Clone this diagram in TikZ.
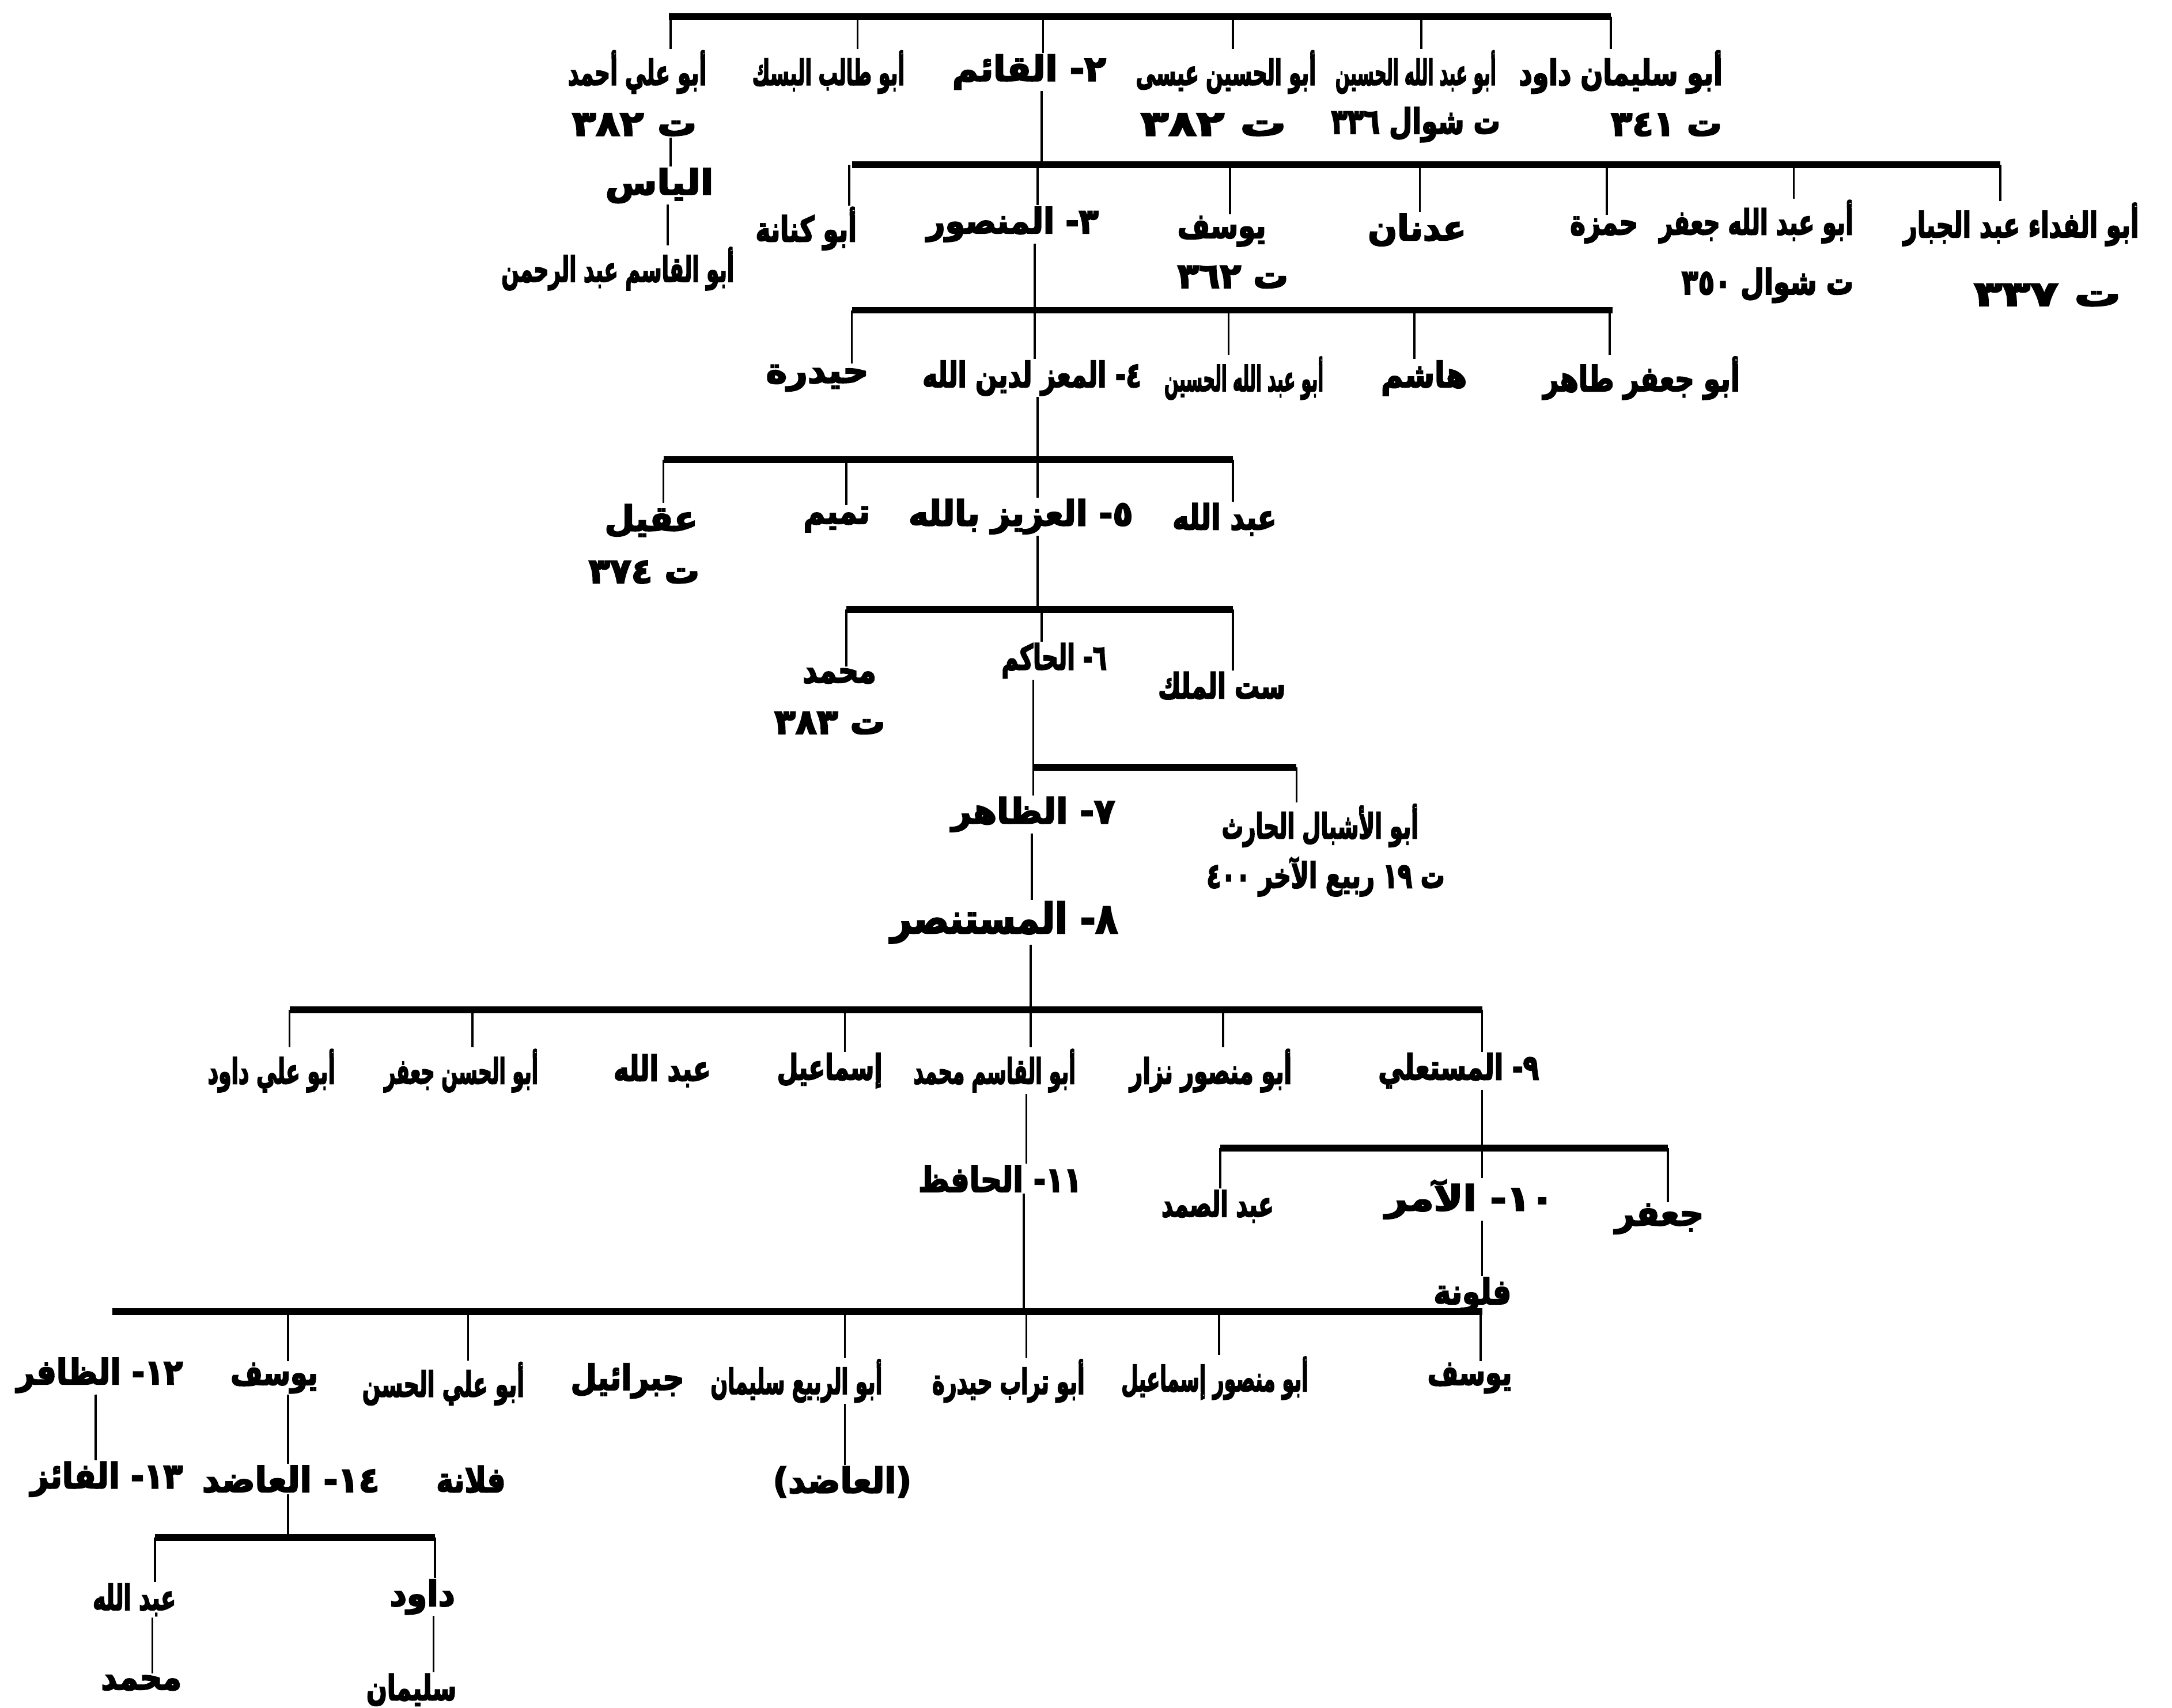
\documentclass[tikz,border=0pt]{standalone}
\usepackage{fontspec}
\TeXXeTstate=1
\newfontfamily\arf[Script=Arabic,FakeBold=4]{DejaVu Sans Bold}
\newsavebox\fitbox
\newlength\fitlen
\newcommand\FitW[2]{\sbox\fitbox{#2}\setlength\fitlen{\wd\fitbox}\pgfmathsetmacro\fitf{#1/\fitlen}\scalebox{\fitf}[1]{\usebox\fitbox}}
\newcommand\dropl[3]{\draw[drop] (#2 -| #1,0) -- (#3 -| #1,0);}
\begin{document}
\begin{tikzpicture}[x=1pt,y=-1pt,
  nm/.style={font=\arf\fontsize{25}{28}\selectfont, inner sep=1pt},
  big/.style={font=\arf\fontsize{30}{33}\selectfont, inner sep=1pt},
  bar/.style={line width=4.8pt},
  drop/.style={line width=1.5pt}]
\useasboundingbox (0,0) rectangle (1568,1233);
% bar levels
\coordinate (B1) at (0,12);
\coordinate (B2) at (0,119);
\coordinate (B3) at (0,224);
\coordinate (B4) at (0,332);
\coordinate (B5) at (0,440);
\coordinate (B6) at (0,554);
\coordinate (B7) at (0,729);
\coordinate (B8) at (0,829);
\coordinate (B9) at (0,947);
\coordinate (B10) at (0,1110);

% ---------- row 1 ----------
\node[nm] (r1a) at (460,52) {\FitW{100}{\beginR أبو علي أحمد\endR}};
\node[nm] (d1a) at (458,90) {\FitW{90}{\beginR ت ٣٨٢\endR}};
\node[nm] (r1b) at (598,52) {\FitW{110}{\beginR أبو طالب البسك\endR}};
\node[nm] (r1c) at (743,52) {\FitW{111}{\beginR ٢- القائم\endR}};
\node[nm] (r1d) at (885,52) {\FitW{130}{\beginR أبو الحسين عيسى\endR}};
\node[nm] (d1d) at (876,90) {\FitW{105}{\beginR ت ٣٨٢\endR}};
\node[nm] (r1e) at (1022,52) {\FitW{116}{\beginR أبو عبد الله الحسين\endR}};
\node[nm] (d1e) at (1022,90) {\FitW{122}{\beginR ت شوال ٣٣٦\endR}};
\node[nm] (r1f) at (1170,52) {\FitW{147}{\beginR أبو سليمان داود\endR}};
\node[nm] (d1f) at (1203,90) {\FitW{80}{\beginR ت ٣٤١\endR}};
\draw[bar] (B1 -| 483,0) -- (B1 -| 1163,0);
\dropl{484}{B1}{r1a.north}
\dropl{619}{B1}{r1b.north}
\dropl{753}{B1}{r1c.north}
\dropl{890}{B1}{r1d.north}
\dropl{1026}{B1}{r1e.north}
\dropl{1163}{B1}{r1f.north}

% descendants of Abu Ali Ahmad
\node[nm] (ily) at (476,134) {\FitW{78}{\beginR الياس\endR}};
\node[nm] (aqr) at (446,194) {\FitW{168}{\beginR أبو القاسم عبد الرحمن\endR}};
\dropl{484}{d1a.south}{ily.north}
\dropl{482}{ily.south}{aqr.north}

% ---------- row 2 ----------
\dropl{752}{r1c.south}{B2}
\node[nm] (r2a) at (582,165) {\FitW{73}{\beginR أبو كنانة\endR}};
\node[nm] (r2b) at (731,162) {\FitW{124}{\beginR ٣- المنصور\endR}};
\node[nm] (r2c) at (882,167) {\FitW{64}{\beginR يوسف\endR}};
\node[nm] (d2c) at (890,200) {\FitW{80}{\beginR ت ٣٦٢\endR}};
\node[nm] (r2d) at (1023,166) {\FitW{71}{\beginR عدنان\endR}};
\node[nm] (r2e) at (1158,166) {\FitW{49}{\beginR حمزة\endR}};
\node[nm] (r2f) at (1268,160) {\FitW{140}{\beginR أبو عبد الله جعفر\endR}};
\node[nm] (d2f) at (1276,206) {\FitW{124}{\beginR ت شوال ٣٥٠\endR}};
\node[nm] (r2g) at (1459,162) {\FitW{170}{\beginR أبو الفداء عبد الجبار\endR}};
\node[nm] (d2g) at (1478,213) {\FitW{106}{\beginR ت ٣٣٧\endR}};
\draw[bar] (B2 -| 615,0) -- (B2 -| 1444,0);
\dropl{613}{B2}{r2a.north}
\dropl{749}{B2}{r2b.north}
\dropl{888}{B2}{r2c.north}
\dropl{1025}{B2}{r2d.north}
\dropl{1160}{B2}{r2e.north}
\dropl{1295}{B2}{r2f.north}
\dropl{1444}{B2}{r2g.north}

% ---------- row 3 ----------
\dropl{747}{r2b.south}{B3}
\node[nm] (r3a) at (590,273) {\FitW{74}{\beginR حيدرة\endR}};
\node[nm] (r3b) at (745,273) {\FitW{158}{\beginR ٤- المعز لدين الله\endR}};
\node[nm] (r3c) at (898,273) {\FitW{115}{\beginR أبو عبد الله الحسين\endR}};
\node[nm] (r3d) at (1028,273) {\FitW{62}{\beginR هاشم\endR}};
\node[nm] (r3e) at (1185,273) {\FitW{142}{\beginR أبو جعفر طاهر\endR}};
\draw[bar] (B3 -| 615,0) -- (B3 -| 1164,0);
\dropl{615}{B3}{r3a.north}
\dropl{747}{B3}{r3b.north}
\dropl{887}{B3}{r3c.north}
\dropl{1021}{B3}{r3d.north}
\dropl{1162}{B3}{r3e.north}

% ---------- row 4 ----------
\dropl{749}{r3b.south}{B4}
\node[nm] (r4a) at (470,376) {\FitW{67}{\beginR عقيل\endR}};
\node[nm] (d4a) at (465,413) {\FitW{80}{\beginR ت ٣٧٤\endR}};
\node[nm] (r4b) at (604,375) {\FitW{48}{\beginR تميم\endR}};
\node[nm] (r4c) at (737,373) {\FitW{162}{\beginR ٥- العزيز بالله\endR}};
\node[nm] (r4d) at (884,375) {\FitW{75}{\beginR عبد الله\endR}};
\draw[bar] (B4 -| 479,0) -- (B4 -| 890,0);
\dropl{479}{B4}{r4a.north}
\dropl{611}{B4}{r4b.north}
\dropl{749}{B4}{r4c.north}
\dropl{890}{B4}{r4d.north}

% ---------- row 5 ----------
\dropl{749}{r4c.south}{B5}
\node[nm] (r5a) at (606,488) {\FitW{53}{\beginR محمد\endR}};
\node[nm] (d5a) at (599,522) {\FitW{80}{\beginR ت ٣٨٣\endR}};
\node[nm] (r5b) at (761,477) {\FitW{76}{\beginR ٦- الحاكم\endR}};
\node[nm] (r5c) at (882,495) {\FitW{92}{\beginR ست الملك\endR}};
\draw[bar] (B5 -| 611,0) -- (B5 -| 890,0);
\dropl{611}{B5}{r5a.north}
\dropl{752}{B5}{r5b.north}
\dropl{890}{B5}{r5c.north}

% ---------- row 6 ----------
\dropl{746}{r5b.south}{B6}
\node[nm] (r6a) at (746,588) {\FitW{118}{\beginR ٧- الظاهر\endR}};
\node[nm] (r6b) at (953,596) {\FitW{142}{\beginR أبو الأشبال الحارث\endR}};
\node[nm] (d6b) at (957,633) {\FitW{172}{\beginR ت ١٩ ربيع الآخر ٤٠٠\endR}};
\draw[bar] (B6 -| 746,0) -- (B6 -| 936,0);
\dropl{746}{B6}{r6a.north}
\dropl{936}{B6}{r6b.north}

\node[big] (r7) at (725,666) {\FitW{164}{\beginR ٨- المستنصر\endR}};
\dropl{745}{r6a.south}{r7.north}

% ---------- row 7 ----------
\dropl{744}{r7.south}{B7}
\node[nm] (r8a) at (1053,773) {\FitW{116}{\beginR ٩- المستعلي\endR}};
\node[nm] (r8b) at (874,773) {\FitW{117}{\beginR أبو منصور نزار\endR}};
\node[nm] (r8c) at (718,773) {\FitW{117}{\beginR أبو القاسم محمد\endR}};
\node[nm] (r8d) at (599,773) {\FitW{76}{\beginR إسماعيل\endR}};
\node[nm] (r8e) at (478,773) {\FitW{70}{\beginR عبد الله\endR}};
\node[nm] (r8f) at (333,773) {\FitW{111}{\beginR أبو الحسن جعفر\endR}};
\node[nm] (r8g) at (196,773) {\FitW{92}{\beginR أبو علي داود\endR}};
\draw[bar] (B7 -| 209,0) -- (B7 -| 1070,0);
\dropl{1070}{B7}{r8a.north}
\dropl{883}{B7}{r8b.north}
\dropl{744}{B7}{r8c.north}
\dropl{610}{B7}{r8d.north}
\dropl{341}{B7}{r8f.north}
\dropl{209}{B7}{r8g.north}

% ---------- row 8 ----------
\dropl{1070}{r8a.south}{B8}
\node[nm] (r9a) at (879,871) {\FitW{81}{\beginR عبد الصمد\endR}};
\node[nm] (r9b) at (1061,866) {\FitW{122}{\beginR ١٠- الآمر\endR}};
\node[nm] (r9c) at (1198,880) {\FitW{64}{\beginR جعفر\endR}};
\draw[bar] (B8 -| 881,0) -- (B8 -| 1204,0);
\dropl{881}{B8}{r9a.north}
\dropl{1070}{B8}{r9b.north}
\dropl{1204}{B8}{r9c.north}
\node[nm] (r9d) at (1063,935) {\FitW{56}{\beginR فلونة\endR}};
\dropl{1070}{r9b.south}{r9d.north}

\node[nm] (r10) at (722,851) {\FitW{118}{\beginR ١١- الحافظ\endR}};
\dropl{741}{r8c.south}{r10.north}

% ---------- row 9 ----------
\dropl{739}{r10.south}{B9}
\node[nm] (r11a) at (1061,995) {\FitW{61}{\beginR يوسف\endR}};
\node[nm] (r11b) at (877,995) {\FitW{135}{\beginR أبو منصور إسماعيل\endR}};
\node[nm] (r11c) at (728,997) {\FitW{110}{\beginR أبو تراب حيدرة\endR}};
\node[nm] (r11d) at (575,997) {\FitW{124}{\beginR أبو الربيع سليمان\endR}};
\node[nm] (r11e) at (453,997) {\FitW{82}{\beginR جبرائيل\endR}};
\node[nm] (r11f) at (320,999) {\FitW{117}{\beginR أبو علي الحسن\endR}};
\node[nm] (r11g) at (198,995) {\FitW{63}{\beginR يوسف\endR}};
\node[nm] (r11h) at (72,993) {\FitW{120}{\beginR ١٢- الظافر\endR}};
\draw[bar] (B9 -| 81,0) -- (B9 -| 1070,0);
\dropl{1069}{B9}{r11a.north}
\dropl{880}{B9}{r11b.north}
\dropl{741}{B9}{r11c.north}
\dropl{610}{B9}{r11d.north}
\dropl{338}{B9}{r11f.north}
\dropl{208}{B9}{r11g.north}

% ---------- row 10 ----------
\node[nm] (r12a) at (77,1068) {\FitW{110}{\beginR ١٣- الفائز\endR}};
\node[nm] (r12b) at (210,1068) {\FitW{128}{\beginR ١٤- العاضد\endR}};
\node[nm] (r12c) at (340,1068) {\FitW{50}{\beginR فلانة\endR}};
\node[nm] (r12d) at (608,1070) {\FitW{100}{\beginR (العاضد)\endR}};
\dropl{69}{r11h.south}{r12a.north}
\dropl{208}{r11g.south}{r12b.north}
\dropl{610}{r11d.south}{r12d.north}

% ---------- row 11 ----------
\dropl{208}{r12b.south}{B10}
\node[nm] (r13a) at (97,1155) {\FitW{60}{\beginR عبد الله\endR}};
\node[nm] (r13b) at (305,1153) {\FitW{47}{\beginR داود\endR}};
\draw[bar] (B10 -| 112,0) -- (B10 -| 314,0);
\dropl{112}{B10}{r13a.north}
\dropl{314}{B10}{r13b.north}
\node[nm] (r14a) at (102,1215) {\FitW{58}{\beginR محمد\endR}};
\node[nm] (r14b) at (297,1220) {\FitW{65}{\beginR سليمان\endR}};
\dropl{110}{r13a.south}{r14a.north}
\dropl{313}{r13b.south}{r14b.north}
\end{tikzpicture}
\end{document}
